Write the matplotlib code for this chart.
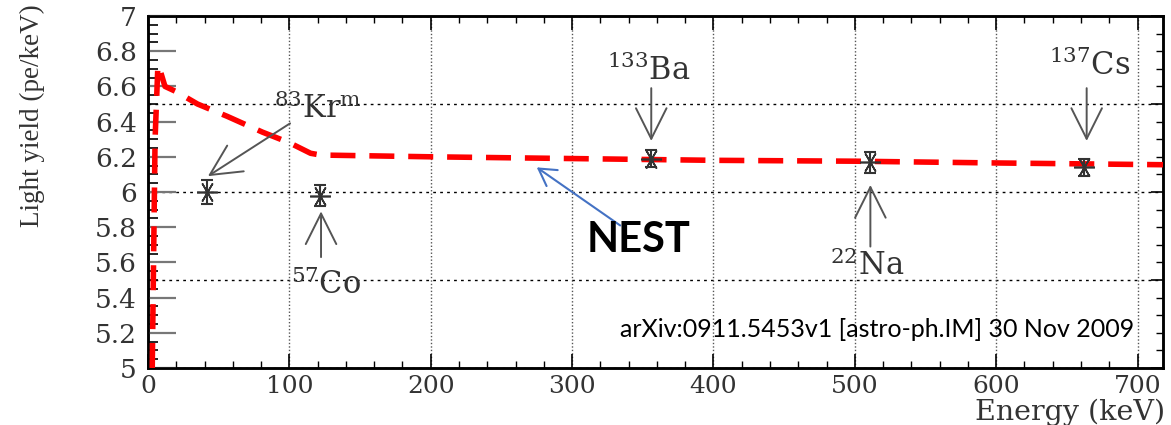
import matplotlib
matplotlib.use("Agg")
import matplotlib.pyplot as plt
from matplotlib.ticker import MultipleLocator, FixedLocator, FixedFormatter

plt.rcParams['mathtext.fontset'] = 'dejavuserif'

# NEST model curve (keV, pe/keV)
nest_energy = [3, 5, 7, 9, 12, 20, 35, 56, 81, 100, 115, 122, 200, 300, 400, 500, 600, 718]
nest_yield = [5.0, 6.3, 6.72, 6.68, 6.6, 6.57, 6.50, 6.43, 6.34, 6.28, 6.22, 6.21, 6.20, 6.19, 6.18, 6.175, 6.165, 6.155]

# measured points
src_names = [r'$^{83}$Kr$^{\mathrm{m}}$', r'$^{57}$Co', r'$^{133}$Ba', r'$^{22}$Na', r'$^{137}$Cs']
src_energy = [41.5, 122, 356, 511, 662]
src_yield = [6.0, 5.98, 6.19, 6.17, 6.14]
src_err = [0.07, 0.06, 0.05, 0.06, 0.05]

# annotation arrows (tail, head) and label anchors
arrow_tail = [(100.5, 6.39), (122.4, 5.63), (356, 6.59), (511, 5.69), (664, 6.59)]
arrow_head = [(42.4, 6.09), (122.4, 5.89), (356, 6.29), (511, 6.04), (664, 6.29)]
label_pos = [(120, 6.47), (126, 5.47), (354, 6.69), (509, 5.58), (666, 6.72)]

y_ticks = [5, 5.2, 5.4, 5.6, 5.8, 6, 6.2, 6.4, 6.6, 6.8, 7]
y_ticklabels = ['5', '5.2', '5.4', '5.6', '5.8', '6', '6.2', '6.4', '6.6', '6.8', '7']
x_ticks = [0, 100, 200, 300, 400, 500, 600, 700]

fig = plt.figure(figsize=(11.71, 4.25), dpi=100)
ax = fig.add_axes([148/1171, 1-368/425, 1015/1171, 352/425])
ax.set_xlim(0, 718)
ax.set_ylim(5, 7)

txtcol = '#333333'
serif = 'DejaVu Serif'

# right axis (grid at 0.5 steps)
axr = ax.twinx()
axr.set_ylim(5, 7)
axr.yaxis.set_major_locator(MultipleLocator(0.5))
axr.yaxis.set_minor_locator(MultipleLocator(0.1))
axr.tick_params(axis='y', which='major', direction='in', length=9, width=1.2, labelright=False)
axr.tick_params(axis='y', which='minor', direction='in', length=5, width=1.0)
axr.grid(True, axis='y', which='major', linestyle=(0, (2, 3)), color='black', linewidth=1.0)
axr.set_zorder(0)
ax.set_zorder(1)
ax.patch.set_visible(False)

ax.xaxis.set_major_locator(FixedLocator(x_ticks))
ax.xaxis.set_minor_locator(MultipleLocator(20))
ax.yaxis.set_major_locator(FixedLocator(y_ticks))
ax.yaxis.set_major_formatter(FixedFormatter(y_ticklabels))
ax.yaxis.set_minor_locator(MultipleLocator(0.05))
ax.tick_params(axis='x', which='major', direction='in', length=10, width=1.2, top=True, pad=5,
               labelsize=18, labelcolor=txtcol)
ax.tick_params(axis='x', which='minor', direction='in', length=5, width=1.0, top=True)
ax.tick_params(axis='y', which='major', direction='in', length=20, width=1.6, color='#777777', pad=8,
               labelsize=19, labelcolor=txtcol)
ax.tick_params(axis='y', which='minor', direction='in', length=7, width=1.2)
for lab in ax.get_xticklabels() + ax.get_yticklabels():
    lab.set_family(serif)
ax.grid(True, axis='x', which='major', linestyle=(0, (1, 1.5)), color='#555555', linewidth=1.0)

for sp in ax.spines.values():
    sp.set_linewidth(1.8)
for sp in axr.spines.values():
    sp.set_linewidth(1.8)

# NEST curve
ax.plot(nest_energy, nest_yield, color='#ff0000', linewidth=4, linestyle=(0, (4.5, 2.5)), zorder=5)

# data points
ax.errorbar(src_energy, src_yield, yerr=src_err, fmt='none', ecolor='#333333', elinewidth=1.5,
            capsize=4, capthick=1.5, zorder=6)
ax.plot(src_energy, src_yield, linestyle='none', marker=(6, 2, 90), markersize=15,
        markeredgecolor='#333333', markeredgewidth=1.2, zorder=6)

# annotation arrows and labels
for name, tail, head, lp in zip(src_names, arrow_tail, arrow_head, label_pos):
    ax.annotate('', xy=head, xytext=tail,
                arrowprops=dict(arrowstyle='->,head_length=1.1,head_width=0.55', color='#555555',
                                lw=1.4, shrinkA=0, shrinkB=0, mutation_scale=20), zorder=7)
    ax.text(lp[0], lp[1], name, ha='center', va='center', fontsize=22, color='#333333',
            family=serif, zorder=8)

# NEST label with blue arrow
ax.annotate('', xy=(275, 6.14), xytext=(334, 5.81),
            arrowprops=dict(arrowstyle='->,head_length=0.6,head_width=0.35', color='#4472C4',
                            lw=1.5, shrinkA=0, shrinkB=0, mutation_scale=20), zorder=9)
ax.text(347, 5.73, 'NEST', ha='center', va='center', fontsize=30, fontweight='bold',
        family='Lato', color='black', zorder=9)

ax.text(516, 5.216, 'arXiv:0911.5453v1 [astro-ph.IM] 30 Nov 2009', ha='center', va='center',
        fontsize=18, family='Lato', color='black', zorder=9)

fig.text(1165/1171, 1-412/425, 'Energy (keV)', ha='right', va='center', fontsize=20.5,
         family=serif, color=txtcol)
fig.text(32/1171, 1-116/425, 'Light yield (pe/keV)', ha='center', va='center', rotation=90,
         fontsize=19.5, family='Liberation Serif', color=txtcol)

fig.savefig('out.png', dpi=100)
